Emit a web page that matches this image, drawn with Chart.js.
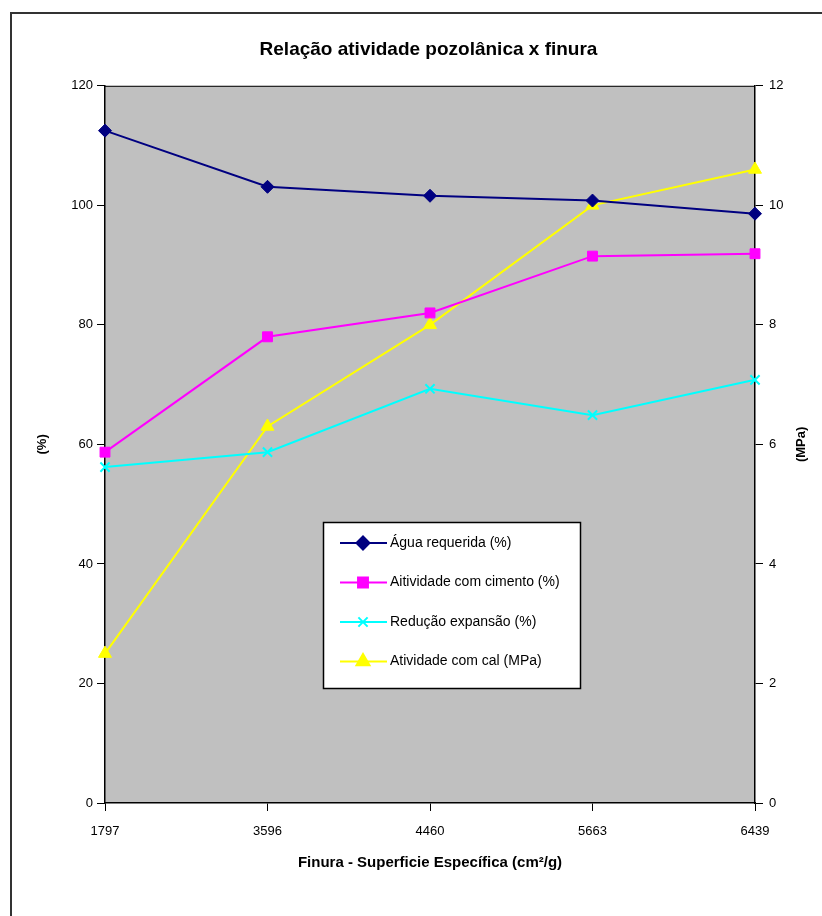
<!DOCTYPE html>
<html>
<head>
<meta charset="utf-8">
<script src="https://cdn.jsdelivr.net/npm/chart.js@4.4.1/dist/chart.umd.min.js"></script>
<style>
  html, body { margin: 0; padding: 0; background: #fff; }
  #wrap { width: 822px; height: 916px; position: relative; }
</style>
</head>
<body>
<div id="wrap"><canvas id="pozChart" width="822" height="916"></canvas></div>
<script>
// categories (finura, cm2/g)
const finuraLabels = ["1797", "3596", "4460", "5663", "6439"];

// series values
const aguaRequerida = [112.5, 103.1, 101.6, 100.8, 98.6];
const atividadeCimento = [58.7, 78.0, 82.0, 91.5, 91.9];
const reducaoExpansao = [56.2, 58.7, 69.3, 64.9, 70.8];
const atividadeCal = [2.5, 6.3, 8.0, 10.0, 10.6]; // MPa, right axis

const leftTicks = [0, 20, 40, 60, 80, 100, 120];
const rightTicks = [0, 2, 4, 6, 8, 10, 12];

const fontFam = "'Liberation Sans', Arial, sans-serif";

// gray plot area + outer frame + right axis title (reads bottom to top like the left one)
const backdrop = {
  id: "backdrop",
  beforeDraw(chart) {
    const { ctx, chartArea } = chart;
    ctx.save();
    ctx.fillStyle = "#c0c0c0";
    ctx.fillRect(chartArea.left, chartArea.top, chartArea.right - chartArea.left, chartArea.bottom - chartArea.top);
    ctx.strokeStyle = "#333";
    ctx.lineWidth = 2;
    ctx.beginPath();
    ctx.moveTo(11, 916);
    ctx.lineTo(11, 13);
    ctx.lineTo(822, 13);
    ctx.stroke();
    ctx.restore();
  },
  afterDatasetsDraw(chart) {
    const { ctx, chartArea } = chart;
    ctx.save();
    ctx.strokeStyle = "#000";
    ctx.lineWidth = 1;
    ctx.beginPath();
    ctx.moveTo(chartArea.left, chartArea.top + 0.5);
    ctx.lineTo(chartArea.right, chartArea.top + 0.5);
    ctx.stroke();
    // (MPa)
    ctx.translate(801, (chartArea.top + chartArea.bottom) / 2);
    ctx.rotate(-Math.PI / 2);
    ctx.fillStyle = "#000";
    ctx.font = "bold 13px " + fontFam;
    ctx.textAlign = "center";
    ctx.textBaseline = "middle";
    ctx.fillText("(MPa)", 0, 0);
    ctx.restore();
  }
};

// boxed legend inside the plot area, drawn from the datasets
const boxLegend = {
  id: "boxLegend",
  afterDraw(chart) {
    const { ctx } = chart;
    const x0 = 323, y0 = 522, w = 257, h = 166;
    ctx.save();
    ctx.fillStyle = "#fff";
    ctx.fillRect(x0, y0, w, h);
    ctx.strokeStyle = "#000";
    ctx.lineWidth = 1.5;
    ctx.strokeRect(x0 + 0.5, y0 + 0.5, w, h);
    chart.data.datasets.forEach((ds, i) => {
      const cy = y0 + 21 + i * 39.5;
      ctx.strokeStyle = ds.borderColor;
      ctx.lineWidth = ds.borderWidth;
      ctx.beginPath();
      ctx.moveTo(x0 + 17, cy);
      ctx.lineTo(x0 + 64, cy);
      ctx.stroke();
      ctx.fillStyle = ds.pointBackgroundColor;
      ctx.strokeStyle = ds.pointBorderColor;
      Chart.helpers.drawPoint(ctx, {
        pointStyle: ds.pointStyle,
        radius: ds.pointRadius,
        rotation: 0,
        borderWidth: ds.pointBorderWidth
      }, x0 + 40, cy);
      ctx.fillStyle = "#000";
      ctx.font = "14px " + fontFam;
      ctx.textBaseline = "middle";
      ctx.fillText(ds.label, x0 + 67, cy);
    });
    ctx.restore();
  }
};

function series(label, data, color, style, radius, axis) {
  return {
    label: label,
    data: data,
    yAxisID: axis,
    borderColor: color,
    backgroundColor: color,
    pointBackgroundColor: color,
    pointBorderColor: color,
    pointBorderWidth: style === "crossRot" ? 2 : 1,
    borderWidth: 2,
    pointStyle: style,
    pointRadius: radius,
    pointHoverRadius: radius,
    tension: 0
  };
}

const chartData = {
  labels: finuraLabels,
  datasets: [
    series("Água requerida (%)", aguaRequerida, "#000080", "rectRot", 6.5, "y"),
    series("Aitividade com cimento (%)", atividadeCimento, "#ff00ff", "rect", 7, "y"),
    series("Redução expansão (%)", reducaoExpansao, "#00ffff", "crossRot", 6.5, "y"),
    series("Atividade com cal (MPa)", atividadeCal, "#ffff00", "triangle", 7.5, "y1")
  ]
};

const chartOptions = {
  responsive: false,
  animation: false,
  layout: { padding: { left: 35, right: 0, top: 0, bottom: 44 } },
  plugins: {
    legend: { display: false },
    tooltip: { enabled: false },
    title: {
      display: true,
      text: "Relação atividade pozolânica x finura",
      color: "#000",
      font: { family: fontFam, size: 19, weight: "bold" },
      padding: { top: 38, bottom: 25 }
    }
  },
  scales: {
    x: {
      offset: false,
      grid: { display: true, drawOnChartArea: false, color: "#000", tickLength: 8, offset: false },
      border: { color: "#000", width: 1.5 },
      ticks: { color: "#000", font: { family: fontFam, size: 13 }, padding: 13, maxRotation: 0 },
      title: {
        display: true,
        text: "Finura - Superficie Específica (cm²/g)",
        color: "#000",
        font: { family: fontFam, size: 15, weight: "bold" },
        padding: { top: 6, bottom: 0 }
      },
      afterFit(scale) { scale.height = 69; }
    },
    y: {
      position: "left",
      min: 0,
      max: 120,
      afterBuildTicks(scale) { scale.ticks = leftTicks.map(v => ({ value: v })); },
      grid: { drawOnChartArea: false, color: "#000", tickLength: 8 },
      border: { color: "#000", width: 1.5 },
      ticks: { color: "#000", font: { family: fontFam, size: 13 }, padding: 4 },
      title: {
        display: true,
        text: "(%)",
        color: "#000",
        font: { family: fontFam, size: 13, weight: "bold" },
        padding: { top: 0, bottom: 0 }
      },
      afterFit(scale) { scale.width = 70; }
    },
    y1: {
      position: "right",
      min: 0,
      max: 12,
      afterBuildTicks(scale) { scale.ticks = rightTicks.map(v => ({ value: v })); },
      grid: { drawOnChartArea: false, color: "#000", tickLength: 8 },
      border: { color: "#000", width: 1.5 },
      ticks: { color: "#000", font: { family: fontFam, size: 13 }, padding: 6 },
      afterFit(scale) { scale.width = 67; }
    }
  }
};

let ctx = document.getElementById("pozChart").getContext("2d");
let pozChart = new Chart(ctx, {
  type: "line",
  data: chartData,
  options: chartOptions,
  plugins: [backdrop, boxLegend]
});
</script>
</body>
</html>
